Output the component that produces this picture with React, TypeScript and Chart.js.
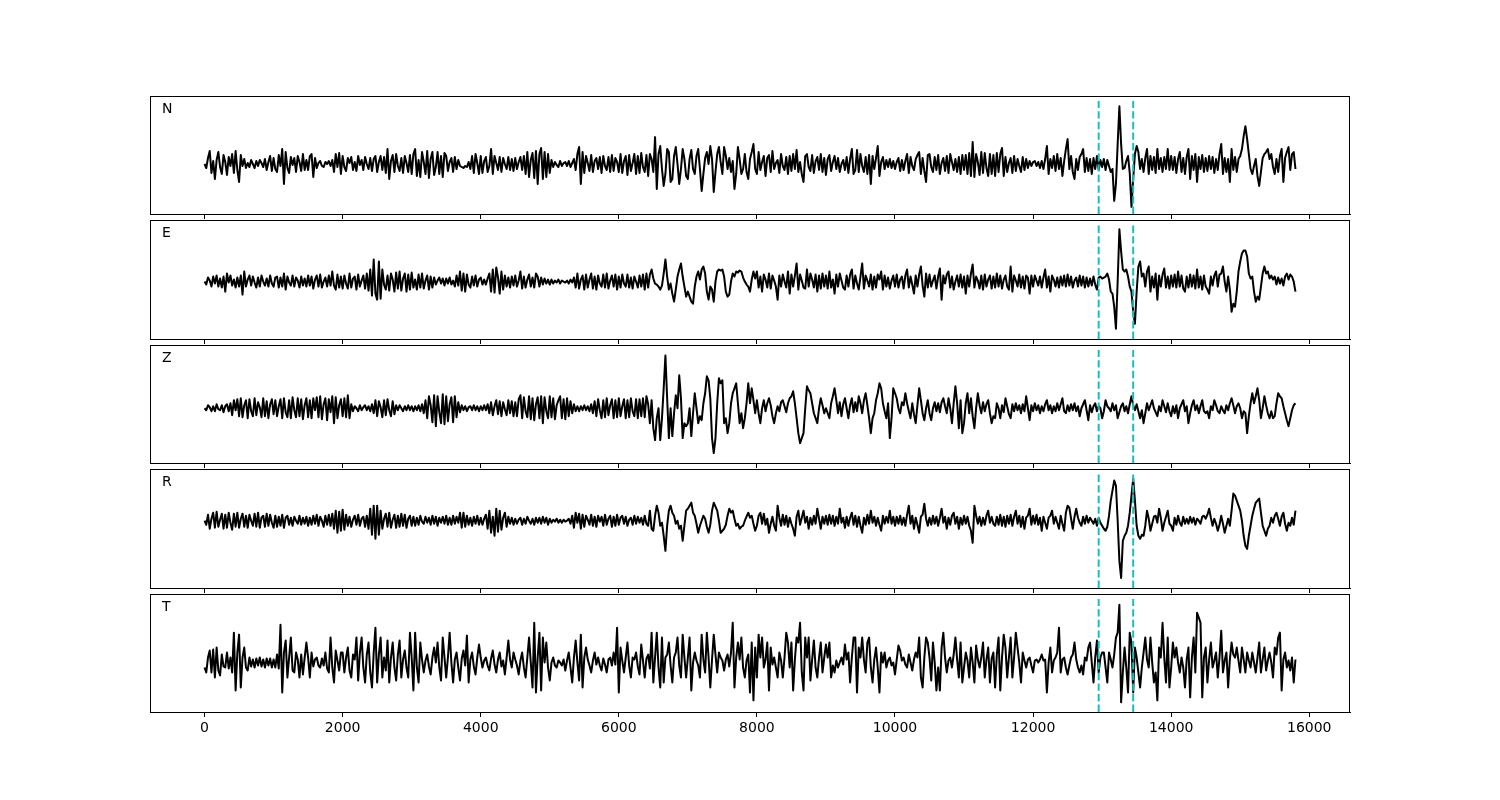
import React, { useEffect, useRef } from "react";
import { Chart, registerables } from "chart.js";

Chart.register(...registerables);
Chart.defaults.font.family = "'DejaVu Sans', sans-serif";

// ---------------- data ----------------
const DURATION = 15800; // last sample time
const X_MIN = -790;
const X_MAX = 16590;
const xTickValues = [0, 2000, 4000, 6000, 8000, 10000, 12000, 14000, 16000];
const pickTimes = [12950, 13450];
const channelNames = ["N", "E", "Z", "R", "T"];

const traceN = [
  0, -4, 6, 13, -9, 3, -15, 4, 12, -3, -10, 9, 2, -11, 7, -2, 10, -9, 13, -6,
  -18, 9, -2, 5, -4, 1, -3, 4, 0, -4, 3, -2, 4, 1, -3, 5, -6, 2, 8, -7,
  6, -5, -8, 9, -2, 15, -20, 12, -4, -9, 7, -1, 6, -8, 8, 2, -7, 10, -6, 4,
  -6, 8, 10, -13, 6, -4, 1, 3, -2, -3, 2, 0, 3, -2, 4, -8, 10, -3, 11, -10,
  8, -3, -7, 6, 1, 7, -6, 2, -7, 8, -1, 4, -6, 7, 0, -5, 6, -7, 5, 8,
  -8, 2, 8, -6, 7, -9, 15, -15, 3, 9, -8, 10, -2, -7, 6, -9, 8, 1, -8, 9,
  -10, 10, 15, -12, 4, -13, 12, 2, -10, 13, -14, 5, 12, -11, -3, 12, -10, 8, -13, 11,
  8, -7, 2, 6, -8, 7, -5, 4, -2, -3, -4, -2, -3, 2, -5, 8, -9, 10, 1, -10,
  8, -9, 3, 7, -8, -2, 15, -10, 8, 1, -6, 7, -8, 6, 0, -5, 7, -6, 5, -7,
  6, -5, 2, 7, -6, 8, -10, 12, -13, 4, 11, -14, 13, -20, 10, 16, -15, 12, -13, 10,
  -9, 4, -3, 2, -1, -3, 3, -2, 1, 2, -2, 3, -3, 1, 5, -6, 10, 17, -20, 12,
  -9, 8, 1, -7, 9, -8, 3, 6, -5, 7, -9, 8, -2, -6, 7, -8, 9, -7, 6, 2,
  -8, 10, -9, 3, 8, -11, 9, -7, 1, 10, -10, 8, -9, 11, -3, -8, 9, -12, 10, 5,
  -8, 27, -25, 10, 18, -5, -22, -10, 15, 12, -18, -15, 8, 17, 0, -20, -5, 15, 5, -12,
  -15, 5, 14, -5, -10, 8, 15, -5, -27, -10, 6, 12, 0, 18, 5, -28, -8, 10, 17, 2,
  -10, 17, 8, -5, 6, -8, 3, -25, -10, 17, 5, -10, -5, 10, -8, -15, 5, 12, 20, -5,
  -10, 12, -6, 2, 8, -12, 6, 9, -8, 13, -5, 1, 4, -9, 10, -2, -6, 7, -10, 8,
  -7, 10, -5, 14, -8, 2, -10, -18, 8, 10, -3, -7, 9, -9, 3, 7, -6, 10, -8, 6,
  -11, 5, 9, -7, 2, 8, -5, 6, -8, 0, 4, -6, 7, -9, 5, 15, -10, -6, 14, -8,
  10, -2, -8, 7, -10, 9, -20, 8, -5, 6, 18, -12, 2, 7, -5, 4, -3, 5, -4, 3,
  -5, 2, 6, -7, 4, -6, 3, 10, -9, 7, -2, -6, 5, 9, 12, -10, 6, -7, -18, 9,
  10, -3, -8, 7, -6, 9, -10, 1, 6, -7, 8, -9, 10, 2, -6, 5, -8, 7, -10, 9,
  -6, 9, -10, 11, -12, 22, -13, 10, 2, -11, 12, -9, 11, -4, -12, 10, -10, 9, -12, 11,
  -8, 10, 16, -12, 7, -8, 1, 6, -9, 8, -7, 5, -2, -8, 7, -6, 5, -4, 3, -2,
  2, 3, -2, 2, -4, 3, -5, 5, 18, -10, 5, -4, 8, -7, 10, -5, 6, -12, 3, 15,
  25, -5, 8, -8, -15, 5, -6, 7, 10, 15, -8, 6, -7, 5, -10, 6, -5, 8, -6, 4,
  -3, 5, -6, 4, -2, -8, -5, -37, -20, 20, 58, 20, -5, -4, 3, 8, -9, -43, -15, 10,
  18, 12, -5, 5, -8, 6, 15, -10, 8, -6, 7, -9, 15, -5, 6, -8, 7, -5, 15, -6,
  8, -6, 7, -9, 5, 12, -8, 6, -10, 7, 15, -15, 8, -6, 10, -18, 7, -5, 9, -8,
  6, -7, 8, -5, 7, -9, 5, -6, 10, 20, -10, 6, -8, 5, -18, 15, -6, 7, -8, 5,
  8, 15, 28, 38, 25, 10, -5, -10, -2, 5, -12, -22, -8, 6, 10, 12, 15, 5, 10, -3,
  -10, 5, -8, 8, 15, -18, 6, 12, 17, -6, 10, 12, -5,
];

const traceE = [
  0, -3, 4, 1, -5, 5, -2, 6, -5, 3, -6, 5, -10, 8, -1, 6, -4, 2, -6, 4,
  -5, 6, -13, 10, -5, 2, 6, -4, 5, -1, -6, 4, -5, 6, 0, -4, 3, -5, 6, -2,
  -5, 4, 5, -6, 4, -5, 8, -8, 5, -1, -4, 6, -5, 4, 1, -6, 5, -4, 3, -5,
  6, -4, 5, -7, 2, 6, -5, 7, -6, 0, 4, -5, 6, -4, 10, -4, -8, 7, -6, 5,
  -7, 6, -2, -7, 8, -6, 3, 5, -8, 7, -5, 1, 6, -7, 8, -9, 12, -14, 22, -12,
  -18, 20, -17, 12, -3, -8, 6, -9, 8, 2, -10, 9, -7, 10, -9, 3, 8, -10, 7, -8,
  9, -6, 2, -8, 7, -6, 8, -7, 1, 6, -8, 5, -6, 4, -3, 1, 4, -2, 3, -4,
  3, -2, 4, -3, 1, -5, 6, -4, 10, -9, 8, -10, 7, -3, -6, 5, -4, 6, -5, 2,
  4, -3, 2, -3, 3, 8, -10, 12, -11, 14, 4, -12, 10, -8, 6, -5, 4, -6, 5, -4,
  6, -5, 1, 10, -7, 5, -6, 2, 7, -5, 4, -6, 8, 5, -5, 4, -3, 3, -2, 2,
  -3, 2, -2, 1, -1, 2, -2, 1, 0, -1, 1, -2, 2, -1, 4, -6, 8, -7, 2, 6,
  -8, 7, -6, 2, 8, -7, 5, -8, 6, -2, -5, 7, -6, 8, -7, 1, 6, -5, 7, -8,
  5, -6, 7, -2, -5, 7, -6, 4, -7, 5, 0, -6, 6, -5, 7, -8, 8, -6, 7, 12,
  3, -2, -3, -5, -8, -4, 8, 22, 5, -8, -2, -12, -20, -8, 5, 12, 18, 5, -5, -15,
  -10, -15, -20, -22, -5, 5, 10, 2, 12, 15, 8, -10, -18, -5, -8, -20, 0, 10, 12, 11,
  12, 5, -10, -15, -13, 0, 8, 5, 10, 9, 11, 10, 4, 0, -3, -5, -10, 2, 10, 3,
  10, -6, 5, -10, 7, 2, -6, 8, -7, 6, 1, -5, -18, 6, -5, 7, 0, -6, 10, -12,
  7, -5, 6, 18, -8, 7, 1, -6, -7, 12, -5, 8, 2, -6, 7, -10, 6, -7, 8, -5,
  6, -7, 10, -6, 2, -12, 7, -5, 8, 1, -6, -8, 6, -5, 7, 12, -7, 6, -2, -8,
  5, 18, -7, 6, 1, -5, 7, -8, 5, -6, 7, 2, 10, -8, 6, -5, 4, -7, 1, 6,
  -5, 7, -6, 2, 5, -7, 6, 12, -6, 5, -3, -12, 6, -5, 7, 15, -4, -15, 8, -6,
  7, -5, 1, 6, -7, 5, 13, -18, 6, -2, 7, 10, -6, 5, -8, 0, 6, -5, 7, -6,
  5, -12, 6, -5, 8, 17, -6, 5, 1, -7, 6, -8, 7, -5, 2, 6, -7, 5, -6, 8,
  -5, 6, -7, 2, 6, -5, -8, 15, -10, 6, 1, -5, 7, -6, 5, -7, 6, 4, -12, 6,
  -5, 6, 1, -4, 5, -6, 4, 12, -6, 5, -10, 6, 2, -5, 4, -6, 5, -4, 6, -5,
  7, -4, 5, -6, 1, 4, -5, 6, -4, 5, -6, 4, -5, 3, -4, 5, -3, -8, 4, 5,
  3, 4, 5, 8, 2, -10, -12, -25, -47, 0, 52, 30, 12, 10, 12, 5, -5, -10, -30, -42,
  -10, 15, 20, 5, 8, -5, 10, 15, -10, 5, -6, 8, -18, 6, -5, 7, 13, -6, 5, -7,
  6, -5, 7, -6, 10, -5, 6, -7, -10, 5, -6, 7, -5, 6, -7, 12, -6, 5, -8, 6,
  -5, -8, -12, 5, -4, 6, 10, -5, 7, 8, 15, 0, -10, 5, -8, -30, -22, -25, -10, 10,
  20, 28, 31, 31, 25, 8, 3, 5, -10, -20, -15, -18, -5, 8, 15, 8, 10, 3, 6, 2,
  5, -3, 4, -2, 3, -4, 5, 8, 2, 7, 5, 0, -10,
];

const traceZ = [
  0, -2, 3, 1, -3, 2, -3, 4, -1, -2, 3, -4, 2, 4, -3, 5, -7, 8, -2, 9,
  -8, 10, -9, 3, 8, -10, 9, -3, -8, 10, -7, 6, 1, -9, 10, -8, 7, -10, 4, 9,
  -6, 8, -8, 2, 9, -10, 10, -4, -9, 8, -10, 11, -2, -9, 10, -8, 9, -11, 3, 10,
  -9, 8, -10, 10, -2, 11, -9, 12, -11, 4, 10, -12, 9, -4, 12, -15, 11, -10, 3, 9,
  -8, 10, -9, 13, -10, 4, -3, 2, 0, -3, 3, -2, 1, 3, -2, 2, -3, 4, -5, 8,
  -8, 7, 1, -9, 8, -7, 9, -2, -8, 7, -6, 3, -2, 3, 0, -3, 2, -2, 3, -2,
  2, -3, 2, -2, 3, -3, 4, -5, 8, -10, 12, 3, -14, 13, -18, 12, -4, -15, 14, -16,
  12, -13, 4, 11, -14, 12, -9, 6, -4, 3, -2, 2, -3, 1, 2, -2, 3, -2, 2, -3,
  2, -2, 3, -2, 4, -5, 6, -7, 2, 8, -6, 7, -8, 6, -1, -7, 8, -5, 7, -8,
  6, -8, 9, 13, -10, 11, -3, -9, 12, -11, 10, -12, 4, 11, -10, 12, -15, 11, -3, -10,
  12, -9, 10, -11, 3, 8, 12, -10, 9, -11, 10, -8, 7, -5, 4, -3, 2, -3, 2, -2,
  3, -2, 2, -3, 4, -5, 7, -8, 9, -2, -10, 8, -9, 10, -7, 3, 9, -10, 8, -9,
  10, -8, 2, 9, -10, 8, -9, 10, -3, -8, 9, -10, 9, -8, 10, -9, 12, 4, -15, 8,
  -20, -32, -10, 0, -32, -10, 20, 53, 10, -30, 0, -28, -5, 13, 0, 33, 10, -30, -15, -18,
  -15, 0, -28, -5, 15, 0, -15, -8, -12, 5, 15, 32, 28, 10, -30, -45, -30, 5, 30, 25,
  28, -15, -10, -25, -15, 5, 15, 20, 25, 5, -15, -5, -20, -10, 5, 25, 5, 20, 8, -5,
  8, -5, -15, 0, 8, -3, 5, 10, 3, -8, -15, -5, 2, -3, 6, 8, 2, -4, 5, 10,
  12, 17, 5, -10, -25, -35, -30, -25, 0, 22, 18, 15, 5, -5, -10, -15, 0, 10, 3, -5,
  0, -5, -10, 5, 12, 20, 8, -5, 6, -8, 4, 10, 0, -10, 3, 10, -4, 6, -3, 12,
  5, -5, 8, 15, 3, -10, -25, -10, -5, 8, 15, 25, 20, 5, -3, -10, 5, -30, -10, 20,
  15, 10, 0, -5, 6, 3, 15, 5, -3, -10, 5, -6, -15, 3, 20, 8, -5, -12, 0, 8,
  -5, -12, 0, 6, -3, 5, -4, 6, 10, 2, -5, 10, 0, -15, 5, 22, 5, -20, 8, -25,
  -15, 5, 15, -5, 10, -8, -20, 0, 15, 3, -5, 6, -3, 4, 8, -5, -15, -8, -10, 5,
  0, -10, 3, -4, 10, 2, -6, -10, 4, -3, 5, -2, 3, -5, 4, -3, 12, 0, -12, 3,
  -3, 5, -2, 3, -5, 2, -3, 4, 8, -2, 3, -5, 2, -3, 5, -2, 4, 10, -3, -5,
  3, -3, 4, -2, 5, -3, 2, -8, 0, 4, 8, -2, -12, 3, -4, 2, 5, -3, 2, 0,
  -10, -3, 8, 2, 0, -3, 5, -2, 3, -10, -4, 2, 5, -3, 2, -5, 4, 12, 3, -2,
  4, -3, -10, -2, -15, -5, 5, -2, 3, 8, 0, -4, -8, 2, -3, 8, 2, -4, 5, -3,
  -8, 2, -5, 3, -10, 0, 4, 8, -3, 2, -15, -5, 3, 8, -2, 3, -5, 2, 8, -3,
  -5, -3, -10, 2, -2, 8, 3, -3, -5, 2, -2, -5, 3, -2, 5, 10, 3, -5, 2, 5,
  0, -10, -3, -5, -25, -8, 5, 15, 5, 12, 20, 8, -10, 0, 12, 3, -5, -10, -3, -10,
  -8, 5, 15, 12, 10, 2, -5, -12, -18, -10, -2, 3, 5,
];

const traceR = [
  0, -4, 6, -8, 2, 8, -7, 9, -6, 1, 7, -8, 6, -7, 8, -2, -9, 7, -6, 8,
  -7, 2, 7, -6, 5, -7, 6, 0, -5, 7, -6, 8, -7, 3, 5, -6, 7, -5, 6, -2,
  -7, 5, -6, 4, -5, 6, -7, 3, 5, -4, 3, -5, 4, 0, -3, 5, -4, 3, -3, 4,
  -5, 3, -4, 5, -3, 6, -5, 4, 0, -6, 5, -4, 6, -5, 7, -8, 10, -12, 9, -10,
  11, -9, 6, -5, 4, -6, 1, 5, -4, 6, -5, 2, 4, -6, 5, -8, 12, -14, 15, -18,
  15, -14, 10, -8, 2, 7, -6, 8, -7, 1, 6, -7, 5, -6, 7, -5, 6, -7, 2, 5,
  -5, 4, -5, 3, -4, 5, -1, -3, 4, -2, 3, -4, 5, -3, 4, -5, 3, -2, 4, -3,
  5, -4, 3, -4, 5, -3, 4, -2, 8, -7, 8, -6, 5, -4, 3, -5, 4, -3, 5, -4,
  3, -4, 2, 6, -8, 10, -12, 4, -15, 12, -11, 10, -9, 3, 8, -6, 4, -3, 3, -4,
  2, -3, 1, 3, -4, 2, -3, 4, 0, -3, 2, -4, 3, -2, 3, -3, 4, -2, 3, -4,
  2, -2, 1, -1, 2, -2, 1, -2, 1, -1, 0, 2, -3, 5, -7, 8, -2, 7, -8, 6,
  -6, 5, 1, -4, 6, -5, 4, -6, 5, -1, 4, -5, 6, -4, 2, 5, -6, 4, -5, 6,
  -4, 3, 5, -3, 4, -5, 1, 3, -4, 5, -3, 4, -2, 3, -4, 5, -3, -5, 10, -8,
  -10, 5, 15, 8, -5, -2, -15, -30, -5, 10, 15, 8, 5, -3, 0, -8, -5, -20, -5, 10,
  12, 15, 18, 8, 5, -3, -12, -5, 0, 5, 2, -6, -12, -4, 10, 18, 14, 10, 0, -12,
  -10, -8, -4, 5, 12, 8, 10, 2, -5, -3, -8, -6, -5, 0, 4, 8, 3, 5, -3, -10,
  -5, 5, 8, -3, 7, -4, 2, -12, -3, 4, -5, -10, 15, 3, -5, 6, -4, 5, -6, 3,
  -3, -8, -15, 4, 10, -4, 3, 10, -2, 4, -8, 3, -4, 5, -3, 12, 2, -8, 4, -3,
  5, -4, 6, -3, 5, -5, 4, -3, 12, -2, 3, -7, 4, -5, 3, 8, -4, 5, -6, 4,
  -5, -12, 3, -4, 6, -3, 10, -2, 4, -5, 3, -4, -10, 5, -3, 4, -2, 10, -3, 4,
  -5, 4, -3, 5, -4, 3, -5, 6, 15, -3, 5, -8, 3, -4, -12, 4, 6, 17, 2, -5,
  3, -4, 5, -3, 4, -5, 3, 12, -2, 4, -8, 3, -4, 5, 8, -3, 4, -8, 3, -4,
  5, -3, 4, -5, -10, -22, 15, 5, -3, 4, -5, 3, -4, 5, 10, -2, 4, -3, -5, 4,
  -4, 6, -5, 4, -6, 5, -3, 6, -5, 4, 10, -3, 5, -6, 4, -8, 3, 5, 12, -4,
  5, -3, 6, -4, 3, -10, 4, -2, -8, 3, 5, 10, -3, 4, -2, -8, 5, -3, -10, 8,
  15, 13, 2, -8, 4, 12, 3, -2, -5, 4, -3, 5, -2, 3, 0, -3, 2, -5, 3, -2,
  -5, -8, -10, -6, 5, 20, 30, 40, 35, 0, -40, -57, -20, -15, -12, -5, 8, 25, 42, 20,
  -5, -15, -18, -14, -15, -5, 10, 2, -10, -3, 4, 5, -2, 12, 3, -10, -2, 4, 10, -3,
  -5, -10, 3, -4, 5, -2, -5, 4, -3, 2, -3, 4, -2, 3, -4, 2, 0, -3, 4, 5,
  2, 6, 12, 3, -5, 2, -3, -10, -4, 5, -3, -12, -5, 2, -5, 10, 27, 25, 20, 15,
  10, 0, -15, -25, -28, -15, -5, 5, 12, 18, 20, 22, 8, -5, -10, -15, -8, -5, 3, -2,
  5, 8, 2, -5, 4, 8, -3, -10, -2, -5, 3, -4, 10,
];

const traceT = [
  -5, -10, 5, 12, -10, 13, -15, 15, -8, -13, 8, -4, -5, 10, -6, 5, -10, 30, -28, 10,
  28, -25, 5, 15, -5, -8, 5, -4, 3, -5, 4, -3, 5, -4, 3, -5, 4, -3, 4, -5,
  3, -5, 8, -6, 38, -30, 10, 22, -15, 5, 25, -8, -10, 10, 3, -15, 8, -12, 5, 20,
  5, -15, 10, -4, 3, 5, -3, -5, 4, -3, 10, -6, -10, 25, -5, -20, 12, 2, -8, 10,
  10, -10, 5, 15, -8, -15, 8, 3, 25, -18, 10, 25, -5, -20, 8, 20, -10, -25, 10, 35,
  -20, 8, 25, -15, 5, -8, 22, -20, 5, 20, -5, -18, 8, 22, -15, 3, 12, -5, -15, 30,
  5, -28, 30, -5, -20, 20, 3, -10, 2, 8, -4, -12, 5, 15, 0, 20, -5, -18, 25, 5,
  -15, 5, 30, 0, -20, 3, 10, -5, -18, 4, 12, -3, 27, -20, 3, 10, -4, -12, 5, 18,
  5, -5, 2, 5, -3, -8, 4, 12, -2, -10, 3, 10, -4, 2, -12, 5, 22, 3, -5, 10,
  3, -3, -12, 2, 10, -5, -15, 5, 25, 0, -25, 40, -30, 5, 30, -28, 25, 0, 20, -5,
  -18, 0, 5, -3, -5, 2, 0, -3, 3, -8, 2, 10, -5, -20, 5, 22, 0, -18, 28, -25,
  5, 15, 3, -3, -10, 2, 10, -2, 5, -3, -8, 4, -2, -10, 3, 5, -3, 10, -2, 35,
  -30, 15, 2, -10, 5, 20, -3, -15, 5, 3, 10, -4, -12, 18, 2, -15, 4, 8, -6, 30,
  -20, 5, 30, -5, -25, 25, -20, 5, 8, 20, -3, -20, 5, 10, 25, -3, -15, 28, 5, -15,
  5, 25, -28, 0, 10, 2, -3, -15, 28, 3, -10, 30, 5, -25, 3, 28, 8, -10, 10, 5,
  2, -8, 3, 8, -4, 10, 40, -25, 5, 20, 3, 25, -5, -15, 2, 8, -30, 20, -38, 15,
  -15, 28, 5, 25, -5, 3, 20, -28, 15, -2, 5, -5, -15, 10, 2, -15, 5, 30, 20, -5,
  20, -28, 3, 25, 20, 40, -10, -28, 25, 5, 25, -18, 3, 22, -5, -15, 5, 20, -10, 5,
  18, 5, 20, -15, -3, -10, 2, -5, 0, 5, -2, 18, 3, 10, -20, 5, 25, 25, -30, 15,
  5, 25, 3, -10, 20, 25, -5, -20, 3, 15, -5, -30, 10, 0, 10, -5, 2, 5, -3, 0,
  -12, 3, 17, 12, 2, 5, -2, -5, 8, 0, -8, 3, 10, 5, 25, -15, -25, 5, 25, 20,
  5, -18, 20, 0, -28, -5, -28, 15, 30, 5, -10, 2, 5, -5, 8, 25, 3, -15, 20, -20,
  -5, 10, 2, -15, 15, 0, -20, 17, 3, -5, 5, 20, -15, 3, 15, -20, 4, 10, -25, 8,
  25, -28, 5, 28, 15, -15, 5, 25, -15, 5, 30, 15, 0, -20, 10, 2, -5, 3, 5, -3,
  -10, 2, 3, 0, 3, 8, 2, 3, -30, 0, 15, -10, 2, 5, 10, 35, -10, 3, 5, -5,
  -12, -3, 5, 8, 20, 3, -5, -10, -3, -12, 5, 2, 15, 20, 0, -20, 5, 22, -10, 5,
  10, 10, -5, -20, 10, 3, -5, 8, 25, 30, 58, -40, -10, 15, -5, -30, 30, 20, -30, 15,
  5, -10, -25, -5, 10, 25, 3, -5, 25, 0, -20, -10, -38, 15, 5, 40, 5, -20, 25, -25,
  -5, 20, 5, 15, 0, -10, 5, -5, -25, 3, 15, -35, 5, 25, -10, 50, 45, 40, -35, 5,
  15, -20, 3, 20, -5, 2, 10, -15, 5, 32, -10, 2, 10, -25, 3, 20, 8, 5, 15, 2,
  -10, 15, 3, -10, 10, 2, -5, 10, 0, -10, 5, 20, -10, 3, 15, -8, 2, 10, 0, -15,
  15, 8, 25, 30, -28, 3, 10, -5, 2, -8, 5, -20, 3,
];

const traces = [traceN, traceE, traceZ, traceR, traceT];
// amplitude axis limits per channel
const yMins = [-50.2, -57.2, -55, -67, -49.7];
const yMaxs = [68.3, 61.3, 63.5, 51.5, 68.8];

// ---------------- layout ----------------
const PANEL_TOPS = [96, 220, 345, 469, 594];
const PANEL_HEIGHTS = [118, 119, 118, 119, 118];
const PAD_TOP = 10;
const AXIS_H = [10, 10, 10, 10, 34];

const framePlugin = {
  id: "frame",
  afterDraw(chart: any, _args: any, opts: any) {
    const { ctx, chartArea } = chart;
    const { left, top, right, bottom } = chartArea;
    ctx.save();
    ctx.strokeStyle = "#000";
    ctx.lineWidth = 1;
    ctx.strokeRect(left + 0.5, top + 0.5, right - left - 1, bottom - top);
    ctx.fillStyle = "#000";
    ctx.font = "14px 'DejaVu Sans', sans-serif";
    ctx.textBaseline = "alphabetic";
    ctx.textAlign = "left";
    ctx.fillText(opts.label || "", left + 12, top + 17);
    ctx.restore();
  },
};

function makeConfig(i: number) {
  const vals = traces[i];
  const yMin = yMins[i];
  const yMax = yMaxs[i];
  const isLast = i === traces.length - 1;
  const data = vals.map((v, k) => ({ x: (k * DURATION) / (vals.length - 1), y: v }));
  const pickTop = yMin + 0.958 * (yMax - yMin);
  const pickSets = pickTimes.map((t) => ({
    data: [
      { x: t, y: yMin },
      { x: t, y: pickTop },
    ],
    borderColor: "#17bfbf",
    borderWidth: 2,
    borderDash: [7.4, 3.2],
    pointRadius: 0,
    order: 0,
  }));
  return {
    type: "line" as const,
    data: {
      datasets: [
        {
          data,
          borderColor: "#000",
          borderWidth: 2,
          pointRadius: 0,
          tension: 0,
          borderJoinStyle: "round",
          order: 1,
        },
        ...pickSets,
      ],
    },
    options: {
      animation: false,
      responsive: false,
      events: [],
      layout: { padding: { left: 150, right: 150, top: PAD_TOP, bottom: 0 } },
      plugins: {
        legend: { display: false },
        tooltip: { enabled: false },
        title: { display: false },
        frame: { label: channelNames[i] },
      },
      scales: {
        x: {
          type: "linear",
          min: X_MIN,
          max: X_MAX,
          afterBuildTicks: (scale: any) => {
            scale.ticks = xTickValues.map((v) => ({ value: v }));
          },
          afterFit: (scale: any) => {
            scale.height = AXIS_H[i];
          },
          grid: {
            display: true,
            drawOnChartArea: false,
            drawTicks: true,
            tickLength: 5,
            color: "#000",
            lineWidth: 1,
          },
          border: { display: true, color: "#000", width: 1 },
          ticks: {
            display: isLast,
            color: "#000",
            font: { size: 14 },
            padding: 3,
            maxRotation: 0,
            autoSkip: false,
            callback: (v: any) => String(v),
          },
        },
        y: { display: false, min: yMin, max: yMax },
      },
    },
    plugins: [framePlugin],
  };
}

export default function App() {
  const refs = useRef<(HTMLCanvasElement | null)[]>([]);

  useEffect(() => {
    const charts: Chart[] = [];
    refs.current.forEach((c, i) => {
      if (c) charts.push(new Chart(c, makeConfig(i) as any));
    });
    return () => charts.forEach((c) => c.destroy());
  }, []);

  return (
    <div style={{ position: "absolute", left: 0, top: 0, width: 1500, height: 800, background: "#fff" }}>
      {traces.map((_, i) => {
        const h = PAD_TOP + PANEL_HEIGHTS[i] + AXIS_H[i];
        return (
          <canvas
            key={i}
            ref={(el) => {
              refs.current[i] = el;
            }}
            width={1500}
            height={h}
            style={{ position: "absolute", left: 0, top: PANEL_TOPS[i] - PAD_TOP, width: 1500, height: h }}
          />
        );
      })}
    </div>
  );
}
